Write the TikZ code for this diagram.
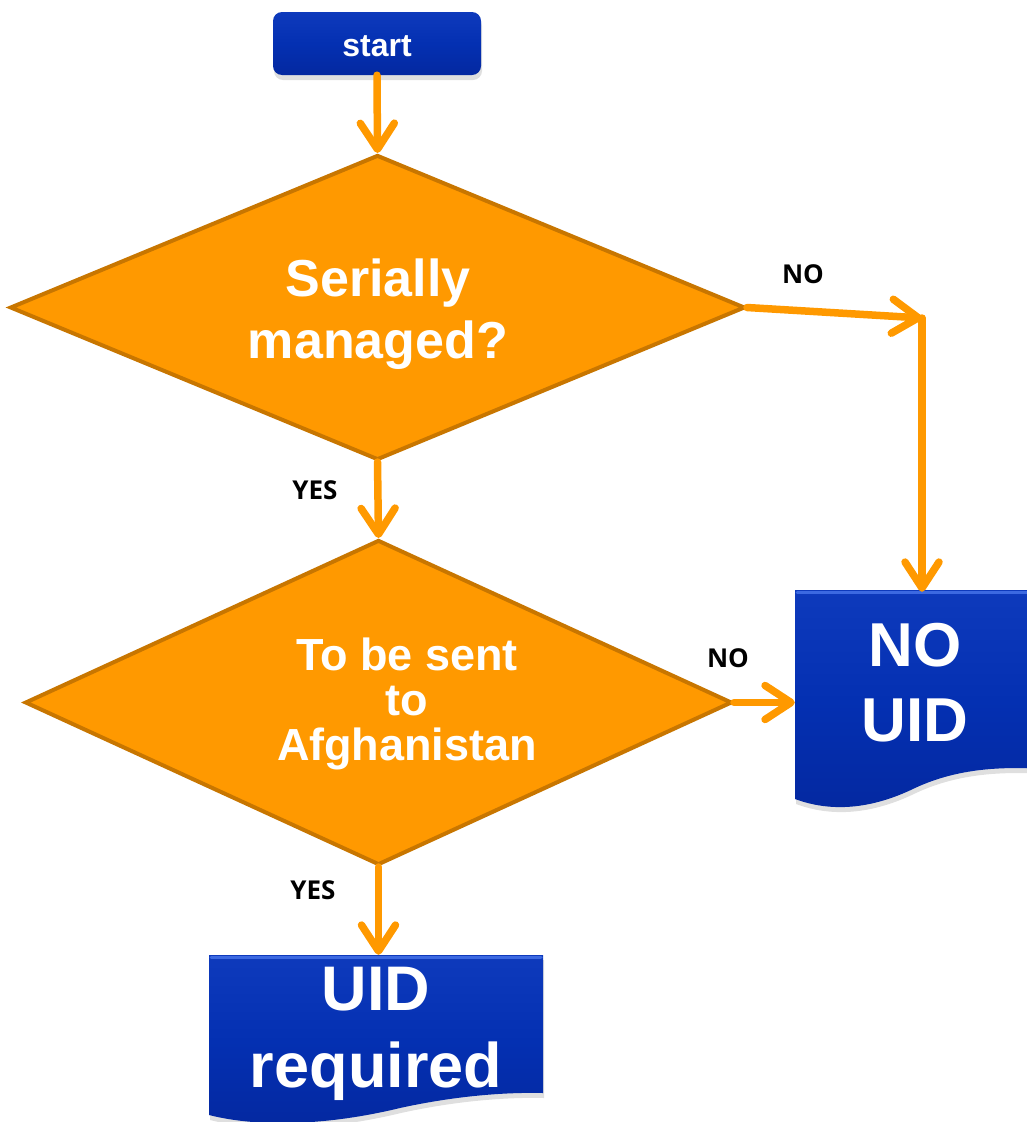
\documentclass[tikz,border=0pt]{standalone}
\usepackage{fontspec}
\setmainfont{Liberation Sans}
\newfontfamily\lblfont{Open Sans}
\usetikzlibrary{arrows.meta,shapes.geometric,shadows}
\definecolor{flowor}{RGB}{255,153,0}
\definecolor{flowedge}{RGB}{200,118,0}
\definecolor{flowblue}{RGB}{4,48,178}
\definecolor{flowbluetop}{RGB}{14,58,188}
\definecolor{flowbluebot}{RGB}{4,40,160}
\definecolor{flowbevel}{RGB}{60,105,225}
\begin{document}
\begin{tikzpicture}[x=1pt,y=-1pt,
  arr/.style={draw=flowor,line width=7.5pt,line cap=round,-{Straight Barb[length=26pt,width=34pt,round]}},
  dia/.style={shape=diamond,draw=flowedge,fill=flowor,line width=4pt,inner sep=0pt,line join=miter},
  dtext/.style={text=white,align=center,inner sep=0pt},
  lbl/.style={font=\lblfont\bfseries\fontsize{26}{30}\selectfont,text=black,inner sep=0pt},
  bluefill/.style={top color=flowbluetop,bottom color=flowbluebot,middle color=flowblue,
    drop shadow={opacity=0.25,shadow xshift=1pt,shadow yshift=-5pt}},
  bevel/.style={draw=flowbevel,line width=3pt,line cap=round},
  boxtext/.style={text=white,align=center,inner sep=0pt},
  startbox/.style={bluefill,rounded corners=9pt,minimum width=208pt,minimum height=63pt,
    text=white,inner sep=0pt,text height=26pt,text depth=0pt,font=\bfseries\fontsize{32}{38}\selectfont}
]
\useasboundingbox (0,0) rectangle (1027,1122);
\begin{scope}
\clip (0,0) rectangle (1027,1122);
% document shapes
\path[bluefill] (795,590) -- (1065,590) -- (1065,771)
  .. controls (1010,765) and (960,767) .. (915,788)
  .. controls (870,810) and (830,812) .. (795,799) -- cycle;
\draw[bevel] (797,592) -- (1065,592);
\path[bluefill] (209,955) -- (543,955) -- (543,1093)
  .. controls (500,1092) and (450,1097) .. (400,1108)
  .. controls (330,1125) and (260,1128) .. (209,1115) -- cycle;
\draw[bevel] (211,957) -- (541,957);

\node[startbox] (start) at (377,43.5) {start};
\node[dia,minimum width=735pt,minimum height=305pt] (d1) at (377.5,307.5) {};
\node[dia,minimum width=707pt,minimum height=325pt] (d2) at (378.5,702.5) {};
\node[dtext,font=\bfseries\fontsize{52}{62}\selectfont] (t1) at (378,314) {Serially\\managed?};
\node[dtext,font=\bfseries\fontsize{45}{45}\selectfont] (t2) at (407,704) {To be sent\\to\\Afghanistan};
\node[boxtext,font=\bfseries\fontsize{62}{75}\selectfont,minimum width=240pt,minimum height=182pt] (nouid) at (915,683) {NO\\UID};
\node[boxtext,minimum width=334pt,minimum height=142pt] (uidreq) at (376,1026) {};
\node[boxtext,font=\bfseries\fontsize{63}{77}\selectfont] (uidtxt) at (376,1034) {UID\\required};

\coordinate (bend) at (922,318);
\draw[arr] (start.south) -- (d1.north);
\draw[arr] (d1.east) -- (bend);
\draw[arr] (bend) -- (bend |- nouid.north);
\draw[arr] (d1.south) -- (d2.north);
\draw[arr] (d2.east) -- (d2.east -| nouid.west);
\draw[arr] (d2.south) -- (d2.south |- uidreq.north);

\node[lbl] (no1) at (803,274) {NO};
\node[lbl] (yes1) at (315,490) {YES};
\node[lbl] (no2) at (728,658) {NO};
\node[lbl] (yes2) at (313,890) {YES};
\end{scope}
\end{tikzpicture}
\end{document}
